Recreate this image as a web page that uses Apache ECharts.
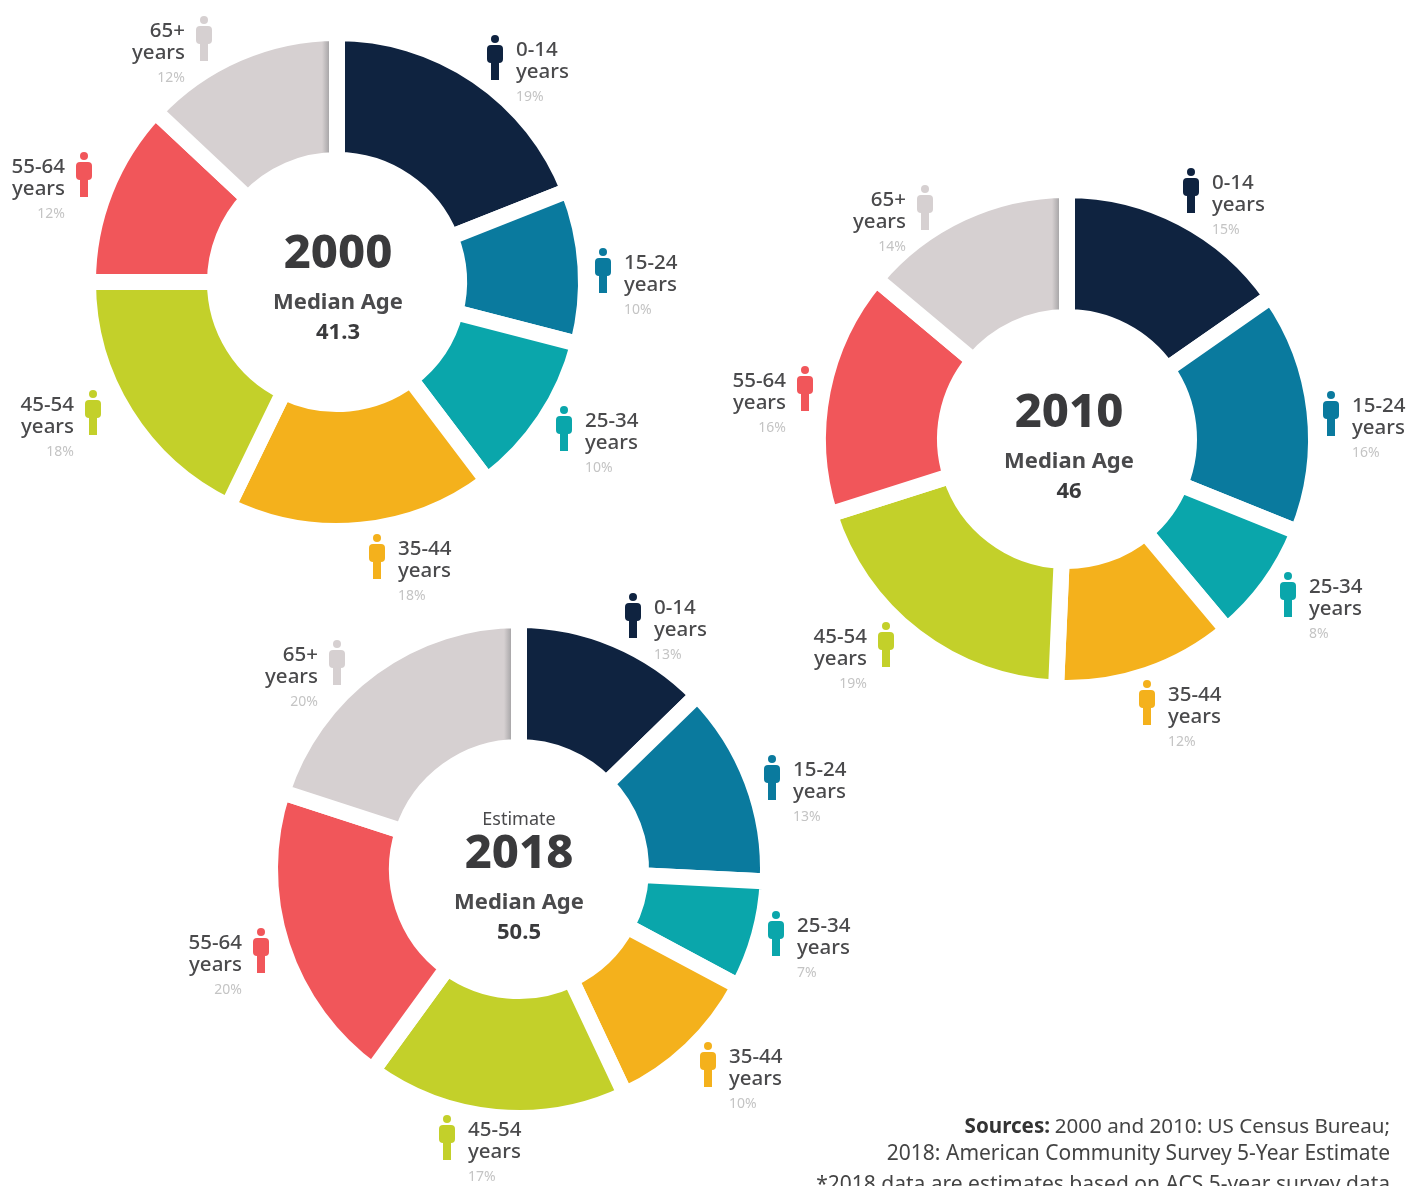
<!DOCTYPE html>
<html><head><meta charset="utf-8">
<style>html,body{margin:0;padding:0;background:#fff}#c{width:1421px;height:1186px}</style>
<script src="https://cdn.jsdelivr.net/npm/echarts@6/dist/echarts.min.js"></script>
</head><body><div id="c"></div>
<script>
const groups = ['0-14','15-24','25-34','35-44','45-54','55-64','65+'];
const colors = ['#0f2340','#0a7a9e','#0aa6ab','#f4b11c','#c3d02a','#f1565a','#d6d0d1'];
// slice sizes as drawn
const values2000 = [19,10,10.7,17.5,17.8,12,13];
const values2010 = [15.3,15.8,7.8,11.8,19.4,16,13.9];
const values2018 = [12.7,13.1,7,10.2,17,20,20];
// percentages as printed
const labels2000 = ['19%','10%','10%','18%','18%','12%','12%'];
const labels2010 = ['15%','16%','8%','12%','19%','16%','14%'];
const labels2018 = ['13%','13%','7%','10%','17%','20%','20%'];
const medians = ['41.3','46','50.5'];
const years = ['2000','2010','2018'];

// layout only
const FONT = '"Noto Sans", sans-serif';
const charts = [
 {v:values2000,l:labels2000,c:[337,282],tx:338,icons:[[495,35,1],[603,248,1],[564,406,1],[377,534,1],[93,390,0],[84,152,0],[204,16,0]],top:[231,292,322]},
 {v:values2010,l:labels2010,c:[1067,439],tx:1069,icons:[[1191,168,1],[1331,391,1],[1288,572,1],[1147,680,1],[886,622,0],[805,366,0],[925,185,0]],top:[390,451,481]},
 {v:values2018,l:labels2018,c:[519,869],tx:519,icons:[[633,593,1],[772,755,1],[776,911,1],[708,1042,1],[447,1115,1],[261,928,0],[337,640,0]],top:[831,892,922]}
];
const gap=16, R=241, r=130;
const shaded=(i,cx)=> i<6 ? colors[i] : {type:'linear',global:true,x:cx-15,y:0,x2:cx-8,y2:0,
  colorStops:[{offset:0,color:colors[i]},{offset:1,color:'#a9a7a9'}]};

const series=charts.map((ch,si)=>({
  type:'pie',center:ch.c,radius:[r-gap/2,R+gap/2],startAngle:90,clockwise:true,silent:true,animation:false,
  itemStyle:{borderColor:'#fff',borderWidth:gap,borderJoin:'bevel'},
  labelLine:{show:false},
  label:{show:true,position:'outside',fontFamily:FONT,overflow:'none',
    formatter:p=>`{a|${p.name}}\n{a|years}\n{b|${ch.l[p.dataIndex]}}`,
    rich:{a:{fontFamily:FONT,fontSize:20.5,fontWeight:500,color:'#4a4a4c',lineHeight:22},
          b:{fontFamily:FONT,fontSize:14,color:'#c4c4c4',lineHeight:28}}},
  labelLayout:p=>{const [x,y,right]=ch.icons[p.dataIndex];
    return {x:right?x+21:x-19,y:y+4,align:right?'left':'right',verticalAlign:'top',hideOverlap:false};},
  data:groups.map((g,i)=>({name:g,value:ch.v[i],itemStyle:{color:shaded(i,ch.c[0])}}))
}));

const graphics=[];
charts.forEach((ch,si)=>ch.icons.forEach((ic,i)=>{
  const fill=colors[i];
  graphics.push({type:'group',x:ic[0]-8,y:ic[1],silent:true,children:[
    {type:'circle',z:10,shape:{cx:8,cy:4,r:4},style:{fill}},
    {type:'rect',z:10,shape:{x:0,y:10,width:16,height:18,r:4},style:{fill}},
    {type:'rect',z:10,shape:{x:4,y:24,width:8,height:21},style:{fill}}
  ]});
}));
const txt=(x,y,text,size,weight,fill,align)=>({type:'text',z:10,x,y,silent:true,style:{text,x:0,y:0,font:`${weight} ${size}px ${FONT}`,fill:fill||'#3a3a3c',align:align||'center',verticalAlign:'top'}});
charts.forEach((ch,i)=>{
  graphics.push(txt(ch.tx,ch.top[0],years[i],47,800));
  graphics.push(txt(ch.tx,ch.top[1],'Median Age',22,700,'#4a4a4c'));
  graphics.push(txt(ch.tx,ch.top[2],medians[i],22,700,'#3a3a3c'));
});
graphics.push(txt(519,811,'Estimate',18,400,'#4a4a4c'));
graphics.push(txt(1050,1117,'Sources:',20.6,700,'#333','right'));
graphics.push(txt(1390,1117,'2000 and 2010: US Census Bureau;',20.6,400,'#444','right'));
graphics.push(txt(1390,1144,'2018: American Community Survey 5-Year Estimate',21,400,'#444','right'));
graphics.push(txt(1390,1175,'*2018 data are estimates based on ACS 5-year survey data',21,400,'#444','right'));

const chart=echarts.init(document.getElementById('c'),null,{renderer:'canvas'});
chart.setOption({animation:false,backgroundColor:'#fff',series,graphic:graphics});
</script></body></html>
